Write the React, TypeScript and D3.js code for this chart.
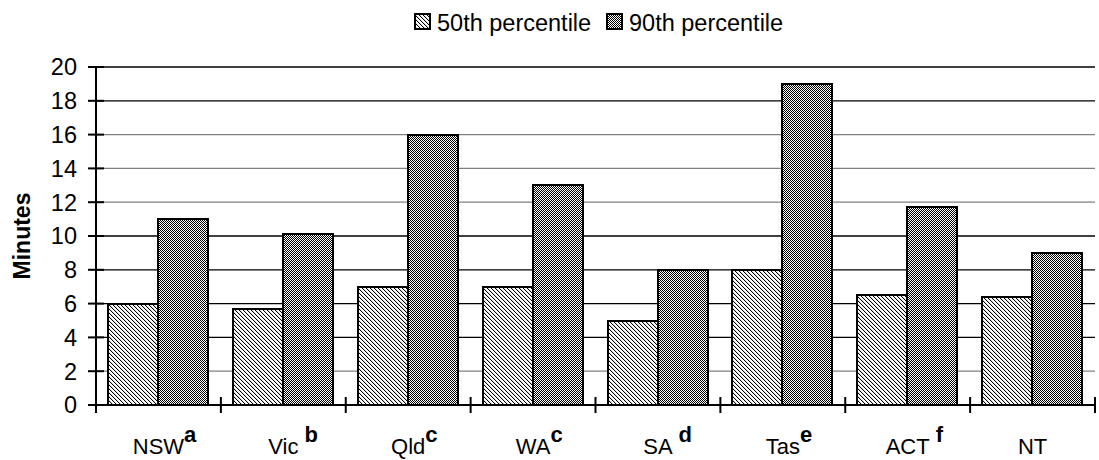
import React from "react";
import * as d3 from "d3";

const categories = ["NSW", "Vic", "Qld", "WA", "SA", "Tas", "ACT", "NT"];
const footnotes = ["a", "b", "c", "c", "d", "e", "f", ""];
const footnoteSpaced = [false, true, false, false, true, false, true, false];
const p50 = [6, 5.7, 7, 7, 5, 8, 6.5, 6.4];
const p90 = [11, 10.1, 16, 13, 8, 19, 11.7, 9];
const seriesNames = ["50th percentile", "90th percentile"];
const yTicks = [0, 2, 4, 6, 8, 10, 12, 14, 16, 18, 20];
const grayGrid = [2, 12, 14, 16];

const W = 1099;
const H = 460;
const M = { left: 96, right: 4, top: 67, bottom: 55 };

export default function App() {
  const x = d3
    .scaleBand<string>()
    .domain(categories)
    .range([M.left, W - M.right])
    .paddingInner(0)
    .paddingOuter(0);
  const y = d3.scaleLinear().domain([0, 20]).range([H - M.bottom, M.top]);
  const bw = x.bandwidth();
  const inner = d3
    .scaleBand<string>()
    .domain(["0", "1"])
    .range([bw * 0.1, bw * 0.9]);
  const font = "Liberation Sans, Arial, sans-serif";
  const y0 = y(0);
  const series = [p50, p90];
  const fills = ["url(#hatch50)", "url(#hatch90)"];

  const diag: [number, number][] = [
    [0, 0],
    [1, 1],
    [2, 2],
    [3, 3],
  ];
  const checker: [number, number][] = [
    [0, 0],
    [2, 0],
    [1, 1],
    [3, 1],
    [0, 2],
    [2, 2],
    [1, 3],
    [3, 3],
  ];

  return (
    <svg
      width={W}
      height={H}
      style={{ position: "absolute", left: 0, top: 0, background: "#fff" }}
      fontFamily={font}
    >
      <defs>
        <pattern id="hatch50" patternUnits="userSpaceOnUse" width={4} height={4}>
          <rect width={4} height={4} fill="#ffffff" />
          {diag.map(([a, b], i) => (
            <rect key={i} x={a} y={b} width={1} height={1} fill="#000" shapeRendering="crispEdges" />
          ))}
          {diag.map(([a, b], i) => (
            <rect key={"g" + i} x={(a + 1) % 4} y={b} width={1} height={1} fill="#d8d8d8" shapeRendering="crispEdges" />
          ))}
        </pattern>
        <pattern id="hatch90" patternUnits="userSpaceOnUse" width={4} height={4}>
          <rect width={4} height={4} fill="#ffffff" />
          {checker.map(([a, b], i) => (
            <rect key={i} x={a} y={b} width={1} height={1} fill="#000" shapeRendering="crispEdges" />
          ))}
        </pattern>
      </defs>

      {/* gridlines */}
      {yTicks
        .filter((t) => t > 0)
        .map((t) => (
          <line
            key={t}
            x1={M.left}
            x2={W - M.right}
            y1={y(t)}
            y2={y(t)}
            stroke={grayGrid.includes(t) ? "#808080" : "#000"}
            strokeWidth={1.3}
          />
        ))}

      {/* bars */}
      {categories.map((c, i) => (
        <g key={c} transform={`translate(${Math.round(x(c) as number)},0)`}>
          {series.map((s, k) => (
            <rect
              key={k}
              x={Math.round(inner(String(k)) as number)}
              width={Math.round(inner.bandwidth())}
              y={Math.round(y(s[i]))}
              height={Math.round(y0) - Math.round(y(s[i]))}
              fill={fills[k]}
              stroke="#000"
              strokeWidth={2}
              shapeRendering="crispEdges"
            />
          ))}
        </g>
      ))}

      {/* y axis */}
      <line x1={M.left} x2={M.left} y1={M.top} y2={y0 + 8} stroke="#000" strokeWidth={2} />
      {yTicks.map((t) => (
        <g key={t}>
          <line x1={M.left - 8} x2={M.left + 8} y1={y(t)} y2={y(t)} stroke="#000" strokeWidth={2} />
          <text x={M.left - 19} y={y(t)} dy="0.36em" textAnchor="end" fontSize={23.5} fill="#000">
            {t}
          </text>
        </g>
      ))}
      <text
        transform={`translate(30,${(M.top + y0) / 2}) rotate(-90)`}
        textAnchor="middle"
        fontSize={23}
        fontWeight="bold"
        fill="#000"
      >
        Minutes
      </text>

      {/* x axis */}
      <line x1={M.left} x2={W - M.right} y1={y0} y2={y0} stroke="#000" strokeWidth={2} />
      {[...categories.map((c) => x(c) as number), W - M.right].map((px, i) => (
        <line key={i} x1={px} x2={px} y1={y0 - 8} y2={y0 + 8} stroke="#000" strokeWidth={2} />
      ))}
      {categories.map((c, i) => {
        const cx = (x(c) as number) + bw / 2;
        return (
          <g key={c}>
            <text x={cx} y={454} textAnchor="middle" fontSize={22} fill="#000">
              {c}
            </text>
            {footnotes[i] && (
              <text
                x={cx}
                y={442}
                fontSize={22}
                fontWeight="bold"
                fill="#000"
                ref={(el) => {
                  if (el) {
                    const prev = el.previousSibling as SVGTextElement;
                    const w = prev.getComputedTextLength();
                    el.setAttribute("x", String(cx + w / 2 + (footnoteSpaced[i] ? 6 : 0)));
                  }
                }}
              >
                {footnotes[i]}
              </text>
            )}
          </g>
        );
      })}

      {/* legend */}
      {seriesNames.map((n, k) => {
        const lx = k === 0 ? 415 : 607;
        return (
          <g key={n}>
            <rect x={lx} y={14} width={15} height={15} fill={fills[k]} stroke="#000" strokeWidth={1.5} shapeRendering="crispEdges" />
            <text x={lx + 22} y={31} fontSize={23.5} fill="#000">
              {n}
            </text>
          </g>
        );
      })}
    </svg>
  );
}
